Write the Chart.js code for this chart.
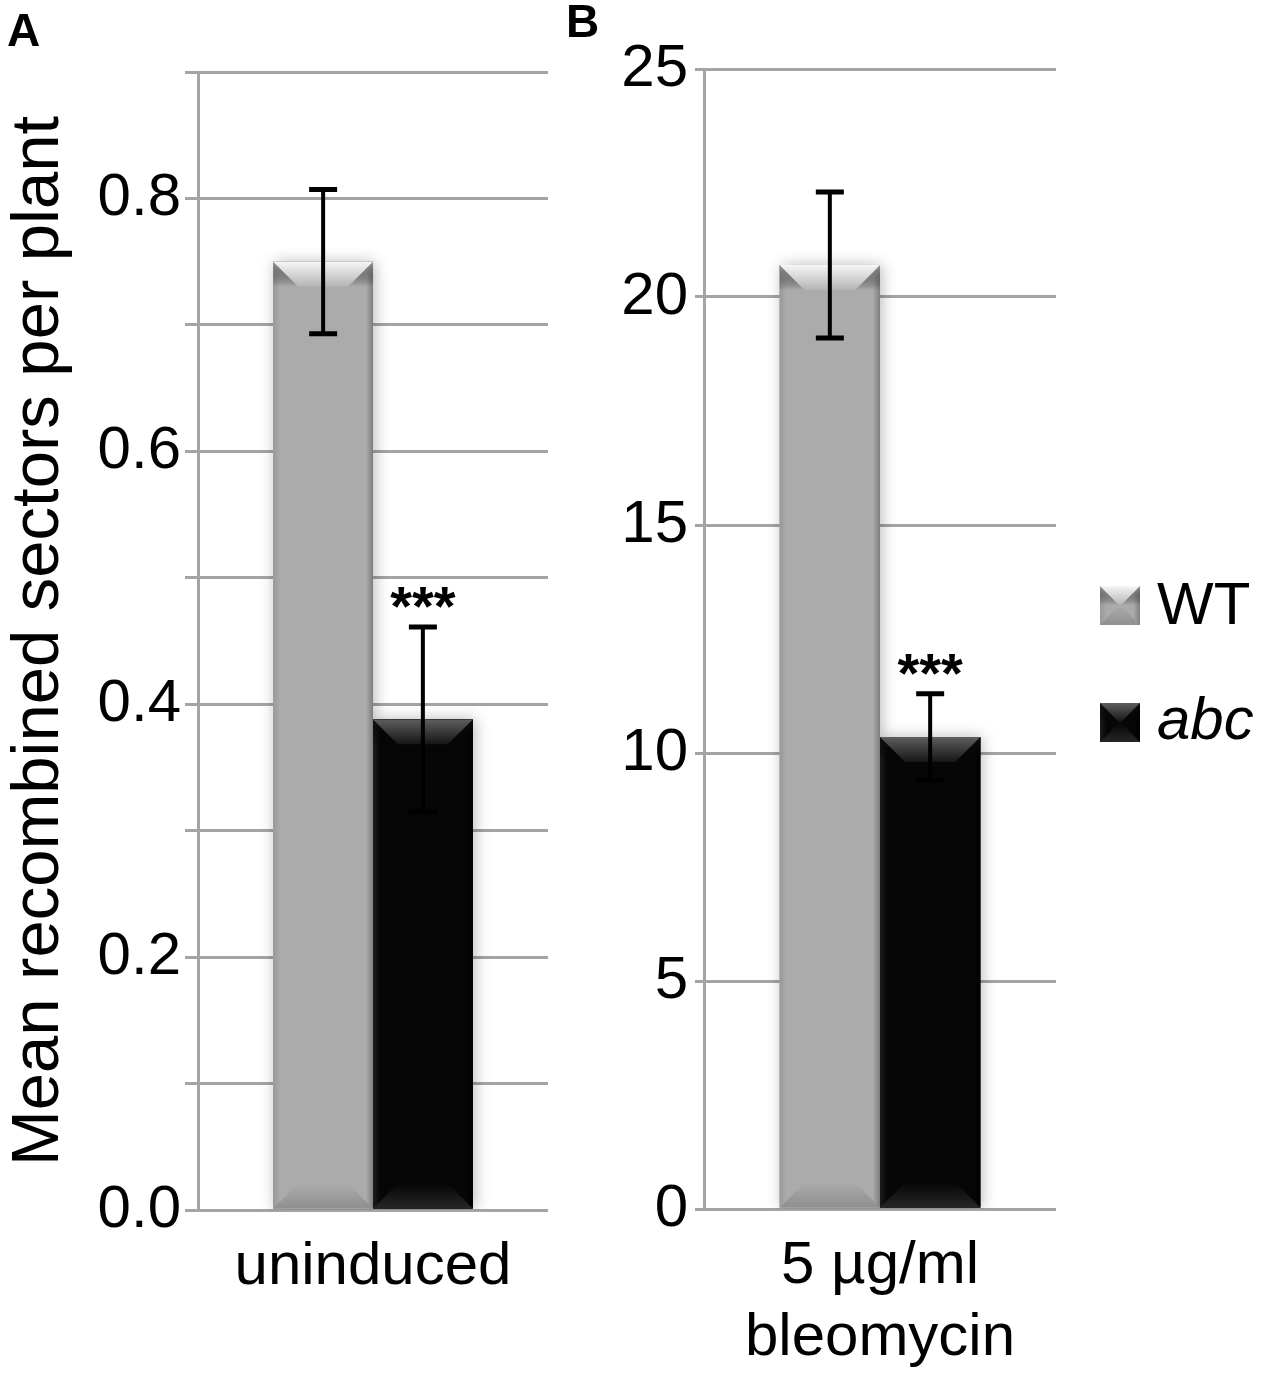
<!DOCTYPE html>
<html>
<head>
<meta charset="utf-8">
<title>Mean recombined sectors per plant</title>
<script src="https://cdn.jsdelivr.net/npm/chart.js@4.4.1/dist/chart.umd.min.js"></script>
<style>
  body { margin: 0; background: #fff; }
  #wrap { position: relative; width: 1267px; height: 1384px; overflow: hidden;
          font-family: 'Liberation Sans', Arial, sans-serif; color: #000; }
  canvas, .tag, .lg { position: absolute; }
  .tag { font-weight: bold; font-size: 46px; line-height: 46px; z-index: 2; }
  .lg { font-size: 60px; line-height: 60px; white-space: nowrap; }
</style>
</head>
<body>
<div id="wrap">
  <div class="tag" style="left:7px;top:7px">A</div>
  <div class="tag" style="left:566px;top:-2px">B</div>
  <canvas id="chartA" width="560" height="1384" style="left:0;top:0;width:560px;height:1384px"></canvas>
  <canvas id="chartB" width="510" height="1384" style="left:560px;top:0;width:510px;height:1384px"></canvas>
  <div id="legend"></div>
</div>
<script>
// ── Data ─────────────────────────────────────────────
const genotypes   = ['WT', 'abc']
const categoriesA = ['uninduced']
const categoriesB = [['5 µg/ml', 'bleomycin']]

const meanA = [0.75, 0.388]     // uninduced
const errA  = [0.057, 0.073]
const meanB = [20.7, 10.35]     // 5 µg/ml bleomycin
const errB  = [1.6, 0.95]

const stars = ['', '***']

const yMaxA = 0.9, yStepA = 0.1
const yMaxB = 25,  yStepB = 5

const yTitle = 'Mean recombined sectors per plant'

// ── Look ─────────────────────────────────────────────
const FONT  = "'Liberation Sans', Arial, sans-serif"
const GRID  = '#a4a4a4'
const PALETTES = [
  { base: '#ababab', edge: '#999999', edgeDark: '#7e7e7e', corner: '#9a9a9a',
    top: '#f6f6f6', topEnd: '#b4b4b4', bottom: '#8f8f8f' },
  { base: '#060606', edge: '#1c1c1c', edgeDark: '#000000', corner: '#101010',
    top: '#5e5e5e', topEnd: '#151515', bottom: '#262626' },
]

Chart.defaults.font.family = FONT
Chart.defaults.color = '#000'

// bevelled block, like the old spreadsheet "bevel" fill
function paintBevel(ctx, x0, y0, x1, y1, pal, depth) {
  const w = x1 - x0, h = y1 - y0
  const d = depth != null ? depth : Math.min(26, w / 4, h / 3)
  const s = Math.min(7, w / 6)
  ctx.save()
  ctx.fillStyle = pal.base
  ctx.fillRect(x0, y0, w, h)

  let g = ctx.createLinearGradient(x0, 0, x1, 0)
  g.addColorStop(0, pal.edge)
  g.addColorStop(s / w, pal.base)
  g.addColorStop(1 - s / w, pal.base)
  g.addColorStop(1, pal.edgeDark)
  ctx.fillStyle = g
  ctx.fillRect(x0, y0, w, h)

  // side triangles at the top corners
  g = ctx.createLinearGradient(0, y0, 0, y0 + d)
  g.addColorStop(0, pal.corner)
  g.addColorStop(1, 'rgba(0,0,0,0)')
  ctx.fillStyle = g
  ctx.beginPath()
  ctx.moveTo(x0, y0); ctx.lineTo(x0 + d, y0 + d); ctx.lineTo(x0, y0 + d); ctx.closePath()
  ctx.moveTo(x1, y0); ctx.lineTo(x1 - d, y0 + d); ctx.lineTo(x1, y0 + d); ctx.closePath()
  ctx.fill()

  // top face
  g = ctx.createLinearGradient(0, y0, 0, y0 + d)
  g.addColorStop(0, pal.top)
  g.addColorStop(1, pal.topEnd)
  ctx.fillStyle = g
  ctx.beginPath()
  ctx.moveTo(x0, y0); ctx.lineTo(x1, y0); ctx.lineTo(x1 - d, y0 + d); ctx.lineTo(x0 + d, y0 + d)
  ctx.closePath()
  ctx.fill()

  // bottom face
  g = ctx.createLinearGradient(0, y1, 0, y1 - d)
  g.addColorStop(0, pal.bottom)
  g.addColorStop(1, pal.base)
  ctx.fillStyle = g
  ctx.beginPath()
  ctx.moveTo(x0, y1); ctx.lineTo(x1, y1); ctx.lineTo(x1 - d, y1 - d); ctx.lineTo(x0 + d, y1 - d)
  ctx.closePath()
  ctx.fill()
  ctx.restore()
}

// bar shading, error bars and significance stars
const barDecor = {
  id: 'barDecor',
  beforeDatasetsDraw(chart) {
    const ctx = chart.ctx
    ctx.save()
    ctx.shadowColor = 'rgba(0,0,0,0.28)'
    ctx.shadowBlur = 14
    ctx.shadowOffsetX = 2
  },
  afterDatasetsDraw(chart, args, opts) {
    const ctx = chart.ctx
    ctx.restore()
    const yScale = chart.scales.y
    chart.data.datasets.forEach((ds, di) => {
      const meta = chart.getDatasetMeta(di)
      meta.data.forEach((el, i) => {
        const { x, y, base, width } = el.getProps(['x', 'y', 'base', 'width'], true)
        paintBevel(ctx, x - width / 2, y, x + width / 2, base, PALETTES[di])

        const e = opts.errors[di][i]
        const v = ds.data[i]
        const hi = yScale.getPixelForValue(v + e)
        const lo = yScale.getPixelForValue(v - e)
        ctx.save()
        ctx.strokeStyle = '#000'
        ctx.lineWidth = 4
        ctx.beginPath()
        ctx.moveTo(x, hi); ctx.lineTo(x, lo)
        ctx.stroke()
        ctx.lineWidth = 5
        ctx.beginPath()
        ctx.moveTo(x - 14, hi); ctx.lineTo(x + 14, hi)
        ctx.moveTo(x - 14, lo); ctx.lineTo(x + 14, lo)
        ctx.stroke()

        const mark = opts.marks[di]
        if (mark) {
          ctx.fillStyle = '#000'
          ctx.font = 'bold 56px ' + FONT
          ctx.textAlign = 'center'
          ctx.textBaseline = 'alphabetic'
          ctx.fillText(mark, x, hi - 2)
        }
        ctx.restore()
      })
    })
  },
}

function makeChart(id, categories, means, errors, yMax, yStep, cfg) {
  return new Chart(document.getElementById(id), {
    type: 'bar',
    data: {
      labels: categories,
      datasets: genotypes.map((g, i) => ({
        label: g,
        data: [means[i]],
        backgroundColor: PALETTES[i].base,
        borderWidth: 0,
        categoryPercentage: 0.57,
        barPercentage: 1.0,
      })),
    },
    options: {
      responsive: false,
      animation: false,
      layout: { padding: { left: 0, right: cfg.padRight, top: cfg.padTop, bottom: 0 } },
      plugins: {
        legend:  { display: false },
        tooltip: { enabled: false },
        barDecor: { errors: genotypes.map((g, i) => [errors[i]]), marks: stars },
      },
      scales: {
        x: {
          grid:   { display: false, drawTicks: false },
          border: { display: false },
          ticks:  { font: { size: 60, lineHeight: 1.2 }, color: '#000', padding: 21 },
          afterFit: s => { s.height = cfg.xHeight },
        },
        y: {
          min: 0,
          max: yMax,
          grid:   { color: GRID, lineWidth: 3, tickLength: cfg.tickLength },
          border: { color: GRID, width: 3 },
          ticks:  {
            stepSize: yStep,
            font: { size: 60 },
            color: '#000',
            padding: cfg.tickPad,
            callback: cfg.tickFormat,
          },
          title: cfg.title
            ? { display: true, text: cfg.title, font: { size: 67, lineHeight: 1.18 }, color: '#000', padding: 0 }
            : { display: false },
          afterFit: s => { s.width = cfg.yWidth },
        },
      },
    },
    plugins: [barDecor],
  })
}

makeChart('chartA', categoriesA, meanA, errA, yMaxA, yStepA, {
  padTop: 72, padRight: 12, xHeight: 174, yWidth: 198,
  tickLength: 13, tickPad: 4, title: yTitle,
  tickFormat: v => (Math.round(v * 10) % 2 === 0 ? v.toFixed(1) : ''),
})

makeChart('chartB', categoriesB, meanB, errB, yMaxB, yStepB, {
  padTop: 69, padRight: 14, xHeight: 175, yWidth: 144,
  tickLength: 9, tickPad: 7, title: null,
  tickFormat: v => String(v),
})

// ── Legend (shared by both panels) ───────────────────
const legendSpots = [{ top: 586, textTop: 574 }, { top: 703, textTop: 689 }]
const legendEl = document.getElementById('legend')
genotypes.forEach((g, i) => {
  const box = document.createElement('canvas')
  box.width = 40; box.height = 39
  box.style.left = '1100px'
  box.style.top = legendSpots[i].top + 'px'
  paintBevel(box.getContext('2d'), 0, 0, 40, 39, PALETTES[i], 19)
  legendEl.appendChild(box)

  const txt = document.createElement('div')
  txt.className = 'lg'
  txt.textContent = g
  txt.style.left = '1157px'
  txt.style.top = legendSpots[i].textTop + 'px'
  if (g === 'abc') txt.style.fontStyle = 'italic'
  legendEl.appendChild(txt)
})
</script>
</body>
</html>
